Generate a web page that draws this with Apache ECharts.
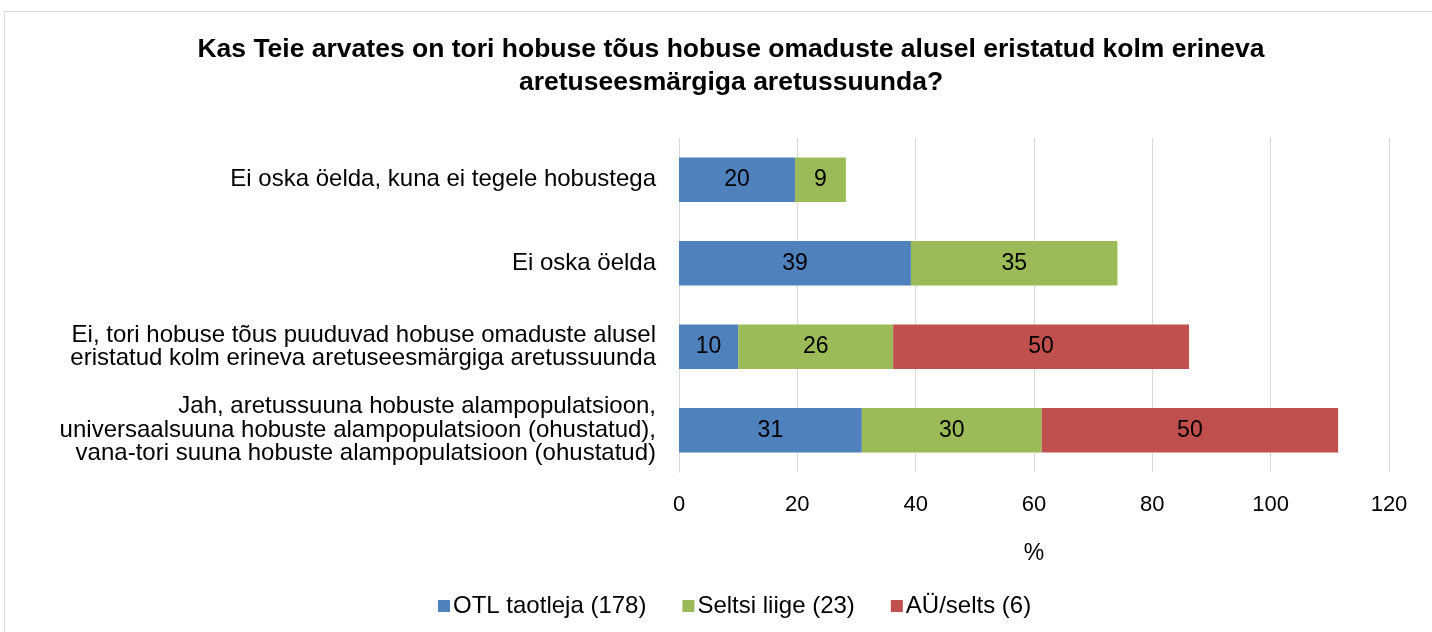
<!DOCTYPE html>
<html>
<head>
<meta charset="utf-8">
<script src="https://cdn.jsdelivr.net/npm/echarts@6/dist/echarts.min.js"></script>
<style>
  html, body { margin: 0; padding: 0; background: #fff; }
  #chart { width: 1432px; height: 632px; }
</style>
</head>
<body>
<div id="chart"></div>
<script>
// andmed
const categories = [
  'Ei oska öelda, kuna ei tegele hobustega',
  'Ei oska öelda',
  'Ei, tori hobuse tõus puuduvad hobuse omaduste alusel\neristatud kolm erineva aretuseesmärgiga aretussuunda',
  'Jah, aretussuuna hobuste alampopulatsioon,\nuniversaalsuuna hobuste alampopulatsioon (ohustatud),\nvana-tori suuna hobuste alampopulatsioon (ohustatud)'
]
const seriesNames = ['OTL taotleja (178)', 'Seltsi liige (23)', 'AÜ/selts (6)']
const otlValues = [19.6, 39.2, 10.0, 30.9]
const seltsValues = [8.6, 34.9, 26.2, 30.4]
const ayValues = [null, null, 50.0, 50.1]
const xTicks = [0, 20, 40, 60, 80, 100, 120]

const colors = ['#4f81bd', '#9bbb59', '#c0504d']
const font = '"Liberation Sans", Arial, sans-serif'

const chart = echarts.init(document.getElementById('chart'))

function makeSeries (name, data, color) {
  return {
    name,
    type: 'bar',
    stack: 'total',
    barWidth: '53%',
    data,
    itemStyle: { color },
    label: {
      show: true,
      position: 'inside',
      color: '#000',
      fontFamily: font,
      fontSize: 23,
      formatter: (p) => Math.round(p.value)
    }
  }
}

chart.setOption({
  backgroundColor: '#fff',
  animation: false,
  title: {
    text: 'Kas Teie arvates on tori hobuse tõus hobuse omaduste alusel eristatud kolm erineva\naretuseesmärgiga aretussuunda?',
    left: 726,
    top: 28,
    textAlign: 'center',
    textStyle: {
      fontFamily: font,
      fontWeight: 'bold',
      fontSize: 26.5,
      lineHeight: 33,
      color: '#000',
      align: 'center'
    }
  },
  graphic: [
    {
      type: 'rect',
      shape: { x: 4.5, y: 11.5, width: 1500, height: 700 },
      style: { fill: 'none', stroke: '#d9d9d9', lineWidth: 1 },
      z: -10
    }
  ],
  legend: {
    top: 589,
    left: 433,
    icon: 'rect',
    itemWidth: 12,
    itemHeight: 12,
    itemGap: 36,
    textStyle: { fontFamily: font, fontSize: 24, color: '#000', padding: [0, 0, 0, -2] },
    data: seriesNames
  },
  grid: {
    left: 679,
    right: 43,
    top: 138,
    bottom: 160,
    containLabel: false
  },
  xAxis: {
    type: 'value',
    min: xTicks[0],
    max: xTicks[xTicks.length - 1],
    interval: 20,
    name: '%',
    nameLocation: 'middle',
    nameGap: 70,
    nameTextStyle: { fontFamily: font, fontSize: 23, color: '#000' },
    axisLine: { show: false },
    axisTick: { show: false },
    axisLabel: { fontFamily: font, fontSize: 22, color: '#000', margin: 22 },
    splitLine: { lineStyle: { color: '#d9d9d9', width: 1 } }
  },
  yAxis: {
    type: 'category',
    inverse: true,
    data: categories,
    axisLine: { show: true, lineStyle: { color: '#d9d9d9' } },
    axisTick: { show: false },
    axisLabel: {
      fontFamily: font,
      fontSize: 24,
      color: '#000',
      lineHeight: 23.5,
      margin: 23,
      align: 'right'
    }
  },
  series: [
    makeSeries(seriesNames[0], otlValues, colors[0]),
    makeSeries(seriesNames[1], seltsValues, colors[1]),
    makeSeries(seriesNames[2], ayValues, colors[2])
  ]
})
</script>
</body>
</html>
